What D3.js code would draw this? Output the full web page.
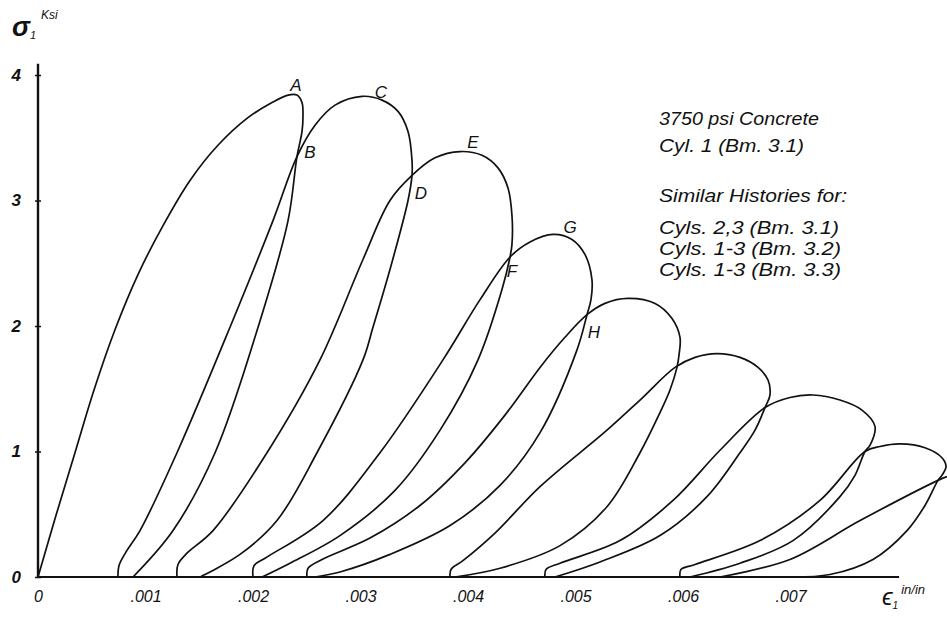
<!DOCTYPE html>
<html>
<head>
<meta charset="utf-8">
<script src="https://cdn.jsdelivr.net/npm/d3@7"></script>
<style>
  body { margin: 0; background: #fff; }
  svg { display: block; }
  text { font-family: "Liberation Sans", "DejaVu Sans", sans-serif; font-style: italic; fill: #111; }
</style>
</head>
<body>
<svg id="chart" width="947" height="617"></svg>
<script>
// Axis ticks
const strainTicks = [0, 0.001, 0.002, 0.003, 0.004, 0.005, 0.006, 0.007];
const strainTickLabels = ["0", ".001", ".002", ".003", ".004", ".005", ".006", ".007"];
const stressTicks = [0, 1, 2, 3, 4];
const stressTickLabels = ["0", "1", "2", "3", "4"];

// Stress–strain history, [strain in/in, stress ksi]; each cycle = reloading then unloading
const cycle1Loading = [[0,0],[.000167,.49],[.000344,.99],[.000521,1.49],[.000716,1.97],[.000930,2.41],[.001163,2.80],[.001414,3.16],[.001674,3.44],[.001953,3.66],[.002177,3.78],[.002326,3.84],[.002409,3.84],[.002456,3.78],[.002465,3.68]];
const cycle1Unloading = [[.002456,3.55],[.002409,3.35],[.002326,2.84],[.002047,1.99],[.001647,.99],[.001256,.37],[.000884,0]];

const cycle2Loading = [[.000744,0],[.000753,.09],[.000819,.20],[.000949,.37],[.001293,.99],[.001786,1.99],[.002186,2.84],[.002409,3.35],[.002577,3.60],[.002763,3.76],[.003014,3.83],[.003200,3.80],[.003349,3.71],[.003442,3.55],[.003479,3.32]];
const cycle2Unloading = [[.003479,3.20],[.003442,3.00],[.003274,2.45],[.003116,1.99],[.003023,1.73],[.002595,.99],[.002223,.45],[.001879,.18],[.001507,0]];

const cycle3Loading = [[.001293,0],[.001302,.10],[.001386,.19],[.001628,.37],[.002130,.99],[.002623,1.73],[.003023,2.53],[.003274,3.00],[.003479,3.20],[.003693,3.34],[.003926,3.39],[.004130,3.36],[.004279,3.26],[.004372,3.10],[.004409,2.88],[.004409,2.65]];
const cycle3Unloading = [[.004391,2.55],[.004316,2.29],[.004093,1.73],[.003740,1.17],[.003321,.69],[.002809,.33],[.002344,.11],[.002084,0]];

const cycle4Loading = [[.002000,0],[.002009,.09],[.002112,.15],[.002651,.45],[.003181,.99],[.003767,1.73],[.004112,2.21],[.004391,2.55],[.004577,2.67],[.004791,2.73],[.004967,2.69],[.005088,2.57],[.005153,2.37],[.005144,2.21]];
const cycle4Unloading = [[.005107,2.09],[.005014,1.81],[.004670,1.15],[.004298,.73],[.003833,.41],[.003274,.18],[.002809,.04],[.002577,0]];

const cycle5Loading = [[.002502,0],[.002512,.07],[.002642,.14],[.003088,.31],[.003553,.57],[.003972,.91],[.004344,1.29],[.004679,1.68],[.004902,1.91],[.005107,2.09],[.005274,2.18],[.005488,2.22],[.005740,2.18],[.005898,2.06],[.005972,1.91],[.005963,1.77]];
const cycle5Unloading = [[.005944,1.67],[.005879,1.49],[.005786,1.31],[.005600,.99],[.005293,.56],[.004856,.25],[.004298,.07],[.003879,0]];

const cycle6Loading = [[.003833,0],[.003842,.06],[.003953,.13],[.004251,.35],[.004670,.72],[.005293,1.17],[.005600,1.41],[.005926,1.67],[.006112,1.75],[.006316,1.78],[.006530,1.75],[.006698,1.67],[.006791,1.57],[.006809,1.45]];
const cycle6Unloading = [[.006763,1.35],[.006670,1.17],[.006530,.99],[.006223,.64],[.005786,.33],[.005228,.12],[.004809,0]];

const cycle7Loading = [[.004716,0],[.004726,.06],[.004856,.11],[.005414,.29],[.005907,.61],[.006344,1.01],[.006763,1.35],[.006995,1.43],[.007209,1.45],[.007460,1.41],[.007665,1.33],[.007786,1.20],[.007740,1.05]];
const cycle7Unloading = [[.007693,1.00],[.007600,.81],[.007460,.64],[.007023,.29],[.006530,.11],[.006065,0]];

const cycle8Loading = [[.005972,0],[.005981,.06],[.006112,.10],[.006716,.29],[.007274,.61],[.007693,1.00],[.007833,1.04],[.008019,1.06],[.008251,1.03],[.008409,.95],[.008447,.88],[.008409,.81]];
const cycle8Unloading = [[.008372,.77],[.008251,.57],[.008084,.37],[.007767,.14],[.007367,.02],[.006995,0]];

const cycle9Loading = [[.006344,0],[.006995,.14],[.007647,.45],[.008372,.77],[.008456,.80]];

// Lettered points on the history
const markedPoints = [
  ["A", .002298, 3.85], ["B", .002409, 3.35], ["C", .003014, 3.83], ["D", .003479, 3.20],
  ["E", .003926, 3.39], ["F", .004391, 2.55], ["G", .004791, 2.73], ["H", .005107, 2.09]
];

const noteLines = [
  "3750 psi Concrete",
  "Cyl. 1  (Bm. 3.1)",
  "Similar Histories for:",
  "Cyls. 2,3  (Bm. 3.1)",
  "Cyls. 1-3  (Bm. 3.2)",
  "Cyls. 1-3  (Bm. 3.3)"
];

const svg = d3.select("#chart");
const x = d3.scaleLinear().domain([0, 0.008]).range([38, 898]);
const y = d3.scaleLinear().domain([0, 4]).range([577, 75]);

const cycles = [
  cycle1Loading.concat(cycle1Unloading),
  cycle2Loading.concat(cycle2Unloading),
  cycle3Loading.concat(cycle3Unloading),
  cycle4Loading.concat(cycle4Unloading),
  cycle5Loading.concat(cycle5Unloading),
  cycle6Loading.concat(cycle6Unloading),
  cycle7Loading.concat(cycle7Unloading),
  cycle8Loading.concat(cycle8Unloading),
  cycle9Loading
];

const line = d3.line()
  .x(d => x(d[0]))
  .y(d => y(d[1]))
  .curve(d3.curveCatmullRom.alpha(0.5));

svg.append("g").selectAll("path")
  .data(cycles)
  .join("path")
  .attr("d", line)
  .attr("fill", "none")
  .attr("stroke", "#111")
  .attr("stroke-width", 1.7)
  .attr("stroke-linejoin", "round");

// Axes
const xAxis = d3.axisBottom(x)
  .tickValues(strainTicks)
  .tickFormat((d, i) => strainTickLabels[i])
  .tickSize(0)
  .tickPadding(14);
const gx = svg.append("g").attr("transform", `translate(0,${y(0)})`).call(xAxis);
gx.select(".domain").remove();
gx.selectAll("text").attr("font-size", 16).attr("font-family", "Liberation Sans, sans-serif").attr("font-style", "italic").attr("fill", "#111");

const yAxis = d3.axisLeft(y)
  .tickValues(stressTicks)
  .tickFormat((d, i) => stressTickLabels[i])
  .tickSizeInner(3)
  .tickSizeOuter(0)
  .tickPadding(14);
const gy = svg.append("g").attr("transform", `translate(${x(0)},0)`).call(yAxis);
gy.select(".domain").remove();
gy.selectAll("line").attr("x2", 3).attr("x1", -3).attr("stroke", "#111").attr("stroke-width", 1.5);
gy.selectAll("text").attr("font-size", 17).attr("font-weight", "bold").attr("font-family", "Liberation Sans, sans-serif").attr("font-style", "italic").attr("fill", "#111");

svg.append("line")
  .attr("x1", x(0)).attr("x2", x(0))
  .attr("y1", y(0)).attr("y2", y(4.09))
  .attr("stroke", "#111").attr("stroke-width", 2.4);
svg.append("line")
  .attr("x1", x(0)).attr("x2", x(0.00801))
  .attr("y1", y(0)).attr("y2", y(0))
  .attr("stroke", "#111").attr("stroke-width", 2.2);

// Axis titles
const yTitle = svg.append("text").attr("x", 12).attr("y", 36).attr("font-size", 27).attr("font-weight", "bold");
yTitle.append("tspan").text("σ");
yTitle.append("tspan").attr("font-size", 11).attr("font-weight", "normal").attr("dy", 3).text("1");
yTitle.append("tspan").attr("font-size", 12).attr("font-weight", "normal").attr("dx", 5).attr("dy", -20).text("Ksi");

const xTitle = svg.append("text").attr("x", 882).attr("y", 605).attr("font-size", 24);
xTitle.append("tspan").text("ϵ");
xTitle.append("tspan").attr("font-size", 10).attr("dy", 4).text("1");
xTitle.append("tspan").attr("font-size", 13).attr("dx", 3).attr("dy", -15).text("in/in");

// Letters beside the marked points
const letterOffsets = { A: [11, -8], B: [13, -4], C: [19, -4], D: [9, 18], E: [13, -9], F: [2, 15], G: [17, -7], H: [7, 18] };
svg.append("g").selectAll("text")
  .data(markedPoints)
  .join("text")
  .attr("x", d => x(d[1]) + letterOffsets[d[0]][0])
  .attr("y", d => y(d[2]) + letterOffsets[d[0]][1])
  .attr("text-anchor", "middle")
  .attr("dominant-baseline", "central")
  .attr("font-size", 17)
  .text(d => d[0]);

// Note block
const noteY = [125, 152, 202, 234, 255, 276];
const noteW = [160, 145, 188, 180, 182, 182];
svg.append("g").selectAll("text")
  .data(noteLines)
  .join("text")
  .attr("x", 659)
  .attr("y", (d, i) => noteY[i])
  .attr("font-size", 18)
  .attr("textLength", (d, i) => noteW[i])
  .attr("lengthAdjust", "spacingAndGlyphs")
  .text(d => d);
</script>
</body>
</html>
